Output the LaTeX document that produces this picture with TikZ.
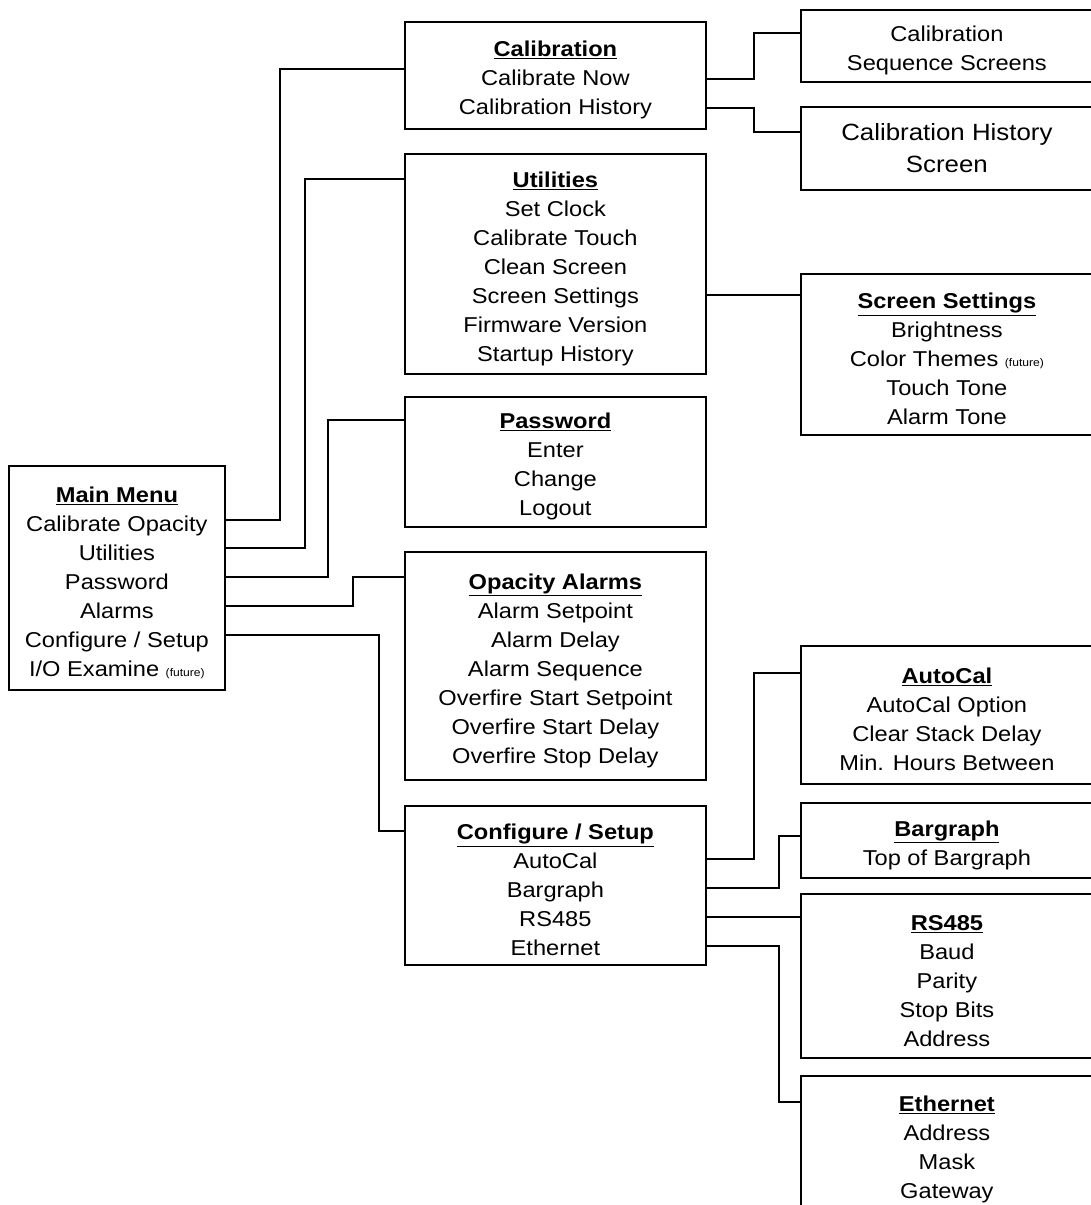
\documentclass[tikz,border=0pt]{standalone}
\usepackage{fontspec}
\setmainfont{Liberation Sans}[FakeStretch=1.1]
\newcommand{\fut}{{\fontsize{11}{13}\selectfont (future)}}
\newcommand{\tstrut}{\rule{0pt}{25pt}}
\newcommand{\ttl}[1]{\tstrut\textbf{\underline{#1}}}
\begin{document}
\begin{tikzpicture}[x=1pt,y=-1pt,
  basebox/.style={draw, line width=1.8pt, anchor=north west, inner sep=0pt, align=center},
  box/.style={basebox, font=\fontsize{21.5}{29}\selectfont},
  bigbox/.style={basebox, font=\fontsize{23.5}{32}\selectfont},
  conn/.style={line width=1.4pt}]
\useasboundingbox (0,0) rectangle (1091,1205);
\clip (0,0) rectangle (1091,1205);
% boxes
\node[box, minimum width=216pt, minimum height=224pt] (main) at (8,465)
  {\ttl{Main Menu}\\Calibrate Opacity\\Utilities\\Password\\Alarms\\Configure / Setup\\I/O Examine \fut};
\node[box, minimum width=301pt, minimum height=107pt] (cal) at (404,21)
  {\ttl{Calibration}\\Calibrate Now\\Calibration History};
\node[box, minimum width=292pt, minimum height=72pt] (calseq) at (800,9)
  {\tstrut Calibration\\Sequence Screens};
\node[bigbox, minimum width=292pt, minimum height=83pt] (calhist) at (800,106)
  {Calibration History\\Screen};
\node[box, minimum width=301pt, minimum height=220pt] (util) at (404,153)
  {\ttl{Utilities}\\Set Clock\\Calibrate Touch\\Clean Screen\\Screen Settings\\Firmware Version\\Startup History};
\node[box, minimum width=292pt, minimum height=161pt] (ss) at (800,273)
  {\ttl{Screen Settings}\\Brightness\\Color Themes \fut\\Touch Tone\\Alarm Tone};
\node[box, minimum width=301pt, minimum height=130pt] (pw) at (404,396)
  {\ttl{Password}\\Enter\\Change\\Logout};
\node[box, minimum width=301pt, minimum height=228pt] (opa) at (404,551)
  {\ttl{Opacity Alarms}\\Alarm Setpoint\\Alarm Delay\\Alarm Sequence\\Overfire Start Setpoint\\Overfire Start Delay\\Overfire Stop Delay};
\node[box, minimum width=301pt, minimum height=159pt] (conf) at (404,805)
  {\ttl{Configure / Setup}\\AutoCal\\Bargraph\\RS485\\Ethernet};
\node[box, minimum width=292pt, minimum height=138pt] (autocal) at (800,645)
  {\ttl{AutoCal}\\AutoCal Option\\Clear Stack Delay\\Min. Hours Between};
\node[box, minimum width=292pt, minimum height=75pt] (bar) at (800,802)
  {\ttl{Bargraph}\\Top of Bargraph};
\node[box, minimum width=292pt, minimum height=164pt] (rs) at (800,893)
  {\ttl{RS485}\\Baud\\Parity\\Stop Bits\\Address};
\node[box, minimum width=292pt, minimum height=137pt] (eth) at (800,1075)
  {\ttl{Ethernet}\\Address\\Mask\\Gateway};
% connectors
\draw[conn] (main.east |- 0,520) -- ++(54,0) |- (cal.west |- 0,69);
\draw[conn] (main.east |- 0,548) -- ++(79,0) |- (util.west |- 0,179);
\draw[conn] (main.east |- 0,577) -- ++(102,0) |- (pw.west |- 0,420);
\draw[conn] (main.east |- 0,606) -- ++(127,0) |- (opa.west |- 0,577);
\draw[conn] (main.east |- 0,635) -- ++(153,0) |- (conf.west |- 0,831);
\draw[conn] (cal.east |- 0,79) -- ++(47,0) |- (calseq.west |- 0,33);
\draw[conn] (cal.east |- 0,108) -- ++(47,0) |- (calhist.west |- 0,132);
\draw[conn] (util.east |- 0,295) -- (ss.west |- 0,295);
\draw[conn] (conf.east |- 0,859) -- ++(47,0) |- (autocal.west |- 0,673);
\draw[conn] (conf.east |- 0,888) -- ++(72,0) |- (bar.west |- 0,836);
\draw[conn] (conf.east |- 0,917) -- (rs.west |- 0,917);
\draw[conn] (conf.east |- 0,946) -- ++(72,0) |- (eth.west |- 0,1102);
\end{tikzpicture}
\end{document}
